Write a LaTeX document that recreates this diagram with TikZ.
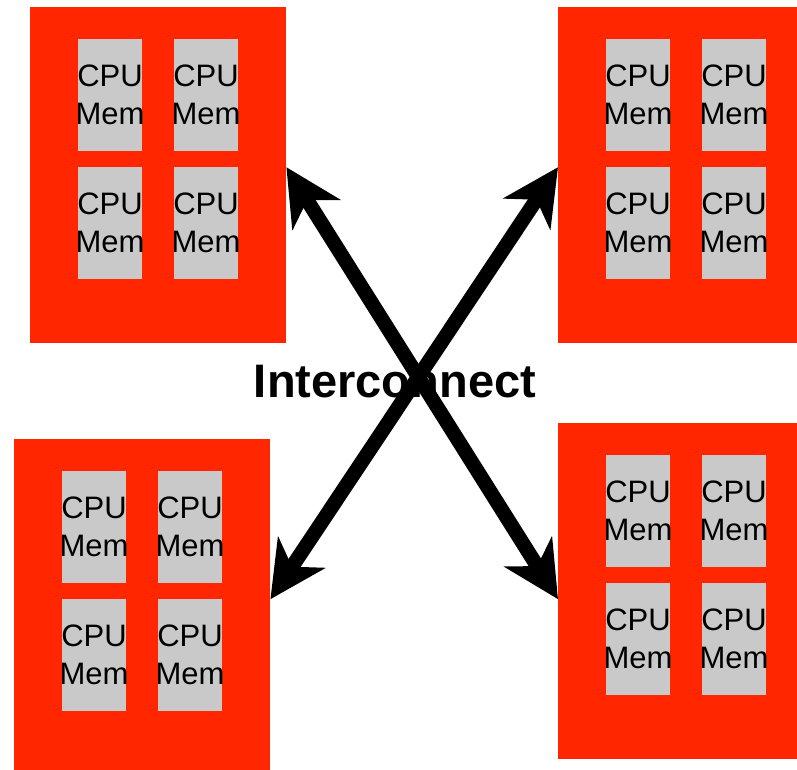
\documentclass[tikz,border=0pt]{standalone}
\usepackage{fontspec}
\setmainfont{Liberation Sans}
\usetikzlibrary{arrows.meta}
\definecolor{boardred}{RGB}{255,38,0}
\definecolor{chipgray}{RGB}{201,201,201}
\tikzset{
  board/.style={fill=boardred, minimum width=256pt, minimum height=336pt, inner sep=0pt, anchor=north west},
  chip/.style={fill=chipgray, minimum width=64pt, minimum height=112pt, inner sep=0pt},
  chiplabel/.style={align=center, inner sep=0pt, font=\fontsize{31pt}{38pt}\selectfont},
  link/.style={line width=14.5pt, <->, >={Stealth[length=56pt,width=56pt,inset=17pt]}}
}
\begin{document}
\begin{tikzpicture}[x=1pt,y=-1pt]
    \path[use as bounding box, clip] (0,0) rectangle (797,769);

    % The four boards
    \node[board] (tl) at (30,7) {};
    \node[board] (tr) at (558,7) {};
    \node[board] (bl) at (14,439) {};
    \node[board] (br) at (558,423) {};

    % Two by two chips on every board
    \foreach \b in {tl,tr,bl,br} {
        \foreach \i/\dx/\dy in {1/80/88, 2/176/88, 3/80/216, 4/176/216} {
            \node[chip] (\b-\i) at ([shift={(\dx,\dy)}]\b.north west) {};
            \node[chiplabel] (\b-\i-t) at (\b-\i) {CPU\\Mem};
        }
    }

    % Label first, the links go over it
    \node[font=\fontsize{47pt}{56pt}\selectfont\bfseries] (ic) at (395,382) {Interconnect};
    \draw[link] ([yshift=8pt]tl.east) -- ([yshift=-8pt]br.west);
    \draw[link] ([yshift=8pt]tr.west) -- ([yshift=8pt]bl.east);
\end{tikzpicture}
\end{document}
